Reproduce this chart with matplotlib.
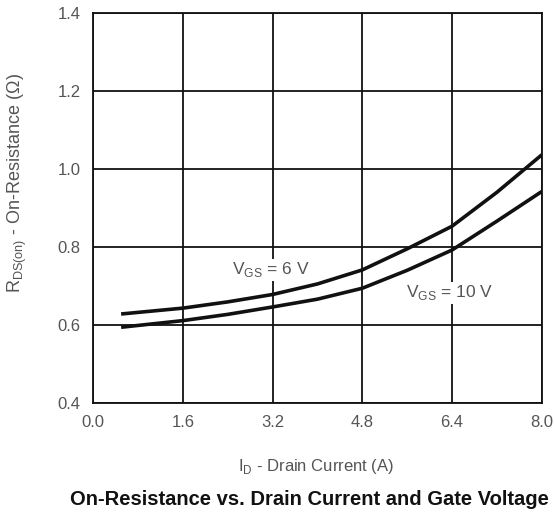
import matplotlib
matplotlib.use("Agg")
import matplotlib.pyplot as plt

plt.rcParams['font.family'] = ['Liberation Sans', 'DejaVu Sans']
plt.rcParams['mathtext.fontset'] = 'custom'
plt.rcParams['mathtext.rm'] = 'Liberation Sans'

# data
current = [0.5, 1.6, 2.4, 3.2, 4.0, 4.8, 5.6, 6.4, 7.2, 8.0]
rds_6v = [0.628, 0.643, 0.659, 0.678, 0.705, 0.741, 0.795, 0.853, 0.940, 1.036]
rds_10v = [0.594, 0.611, 0.627, 0.646, 0.666, 0.694, 0.740, 0.792, 0.866, 0.942]

x_ticks = [0.0, 1.6, 3.2, 4.8, 6.4, 8.0]
y_ticks = [0.4, 0.6, 0.8, 1.0, 1.2, 1.4]

fig = plt.figure(figsize=(5.54, 5.12), dpi=100)
ax = fig.add_axes([0.168, 0.213, 0.81, 0.762])

ax.plot(current, rds_6v, color='#111111', lw=2.6, solid_capstyle='butt')
ax.plot(current, rds_10v, color='#111111', lw=2.6, solid_capstyle='butt')

ax.set_xlim(0, 8.0)
ax.set_ylim(0.4, 1.4)
ax.set_xticks(x_ticks)
ax.set_yticks(y_ticks)
ax.set_xticklabels([f"{v:.1f}" for v in x_ticks])
ax.set_yticklabels([f"{v:.1f}" for v in y_ticks])
ax.tick_params(length=0, labelsize=12, labelcolor='#555555', pad=9)
ax.grid(True, color='#111111', lw=1.3)
ax.set_axisbelow(True)
for s in ax.spines.values():
    s.set_color('#111111')
    s.set_linewidth(1.3)

ax.text(3.17, 0.741, r'V$_{\mathrm{GS}}$ = 6 V', fontsize=12.5, color='#555555',
        ha='center', va='center',
        bbox=dict(facecolor='white', edgecolor='none', pad=1))
ax.text(6.36, 0.682, r'V$_{\mathrm{GS}}$ = 10 V', fontsize=12.5, color='#555555',
        ha='center', va='center',
        bbox=dict(facecolor='white', edgecolor='none', pad=1))

fig.text(0.032, 0.643, r'R$_{\mathrm{DS(on)}}$ - On-Resistance ($\Omega$)', fontsize=13,
         color='#555555', rotation=90, ha='center', va='center')
fig.text(0.57, 0.088, r'I$_{\mathrm{D}}$ - Drain Current (A)', fontsize=12,
         color='#555555', ha='center', va='center')
fig.text(0.558, 0.024, 'On-Resistance vs. Drain Current and Gate Voltage',
         fontsize=14.5, fontweight='bold', color='#111111', ha='center', va='center')

fig.savefig('out.png', dpi=100)
